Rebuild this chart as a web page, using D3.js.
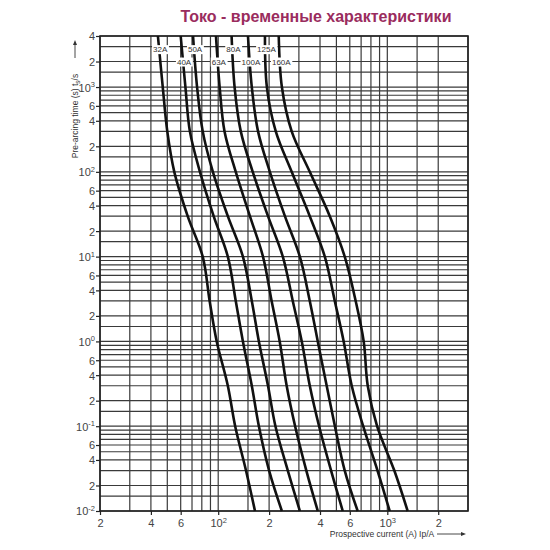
<!DOCTYPE html>
<html><head><meta charset="utf-8">
<script src="https://cdn.jsdelivr.net/npm/d3@7"></script>
<style>html,body{margin:0;padding:0;background:#fff;}svg{display:block;}</style>
</head><body>
<svg id="c" width="550" height="550"></svg>
<script>
// ---- data ----
const titleText = "Токо - временные характеристики";
const timeLevels = [4000, 1000, 300, 100, 30, 10, 3, 1, 0.3, 0.1, 0.03, 0.01];
const ratings = ["32A", "40A", "50A", "63A", "80A", "100A", "125A", "160A"];
const currents32A  = [44, 47, 50, 55, 66, 81, 89, 98, 114, 126, 146, 165];
const currents40A  = [60, 64, 68, 78, 94, 114, 127, 140, 158, 174, 200, 238];
const currents50A  = [71, 75, 81, 93, 114, 140, 158, 174, 197, 218, 258, 304];
const currents63A  = [97, 102, 109, 127, 154, 184, 207, 231, 254, 285, 332, 388];
const currents80A  = [120, 125, 136, 160, 197, 241, 276, 312, 348, 395, 465, 545];
const currents100A = [150, 158, 172, 202, 248, 304, 348, 388, 438, 490, 560, 668];
const currents125A = [189, 194, 219, 272, 348, 427, 489, 552, 616, 720, 875, 1033];
const currents160A = [228, 238, 272, 348, 457, 560, 650, 725, 766, 870, 1100, 1319];
const labelTimes = [2800, 2000, 2800, 2000, 2800, 2000, 2800, 2000];
const xTickValues = [20, 40, 60, 100, 200, 400, 600, 1000, 2000];
const yTickValues = [4000, 2000, 1000, 600, 400, 200, 100, 60, 40, 20, 10, 6, 4, 2, 1, 0.6, 0.4, 0.2, 0.1, 0.06, 0.04, 0.02, 0.01];
const gridMantissas = [1, 1.5, 2, 3, 4, 5, 6, 7, 8, 9];
const xAxisTitle = "Prospective current (A) Ip/A";
const yAxisTitle = "Pre-arcing time (s) t";

const allCurrents = [currents32A, currents40A, currents50A, currents63A, currents80A, currents100A, currents125A, currents160A];

// ---- layout ----
const svg = d3.select("#c");
const L = 100, R = 468, T = 36, B = 511;
const x = d3.scaleLog().domain([20, 3000]).range([L, R]);
const y = d3.scaleLog().domain([4000, 0.01]).range([T, B]);
const fam = "Liberation Sans, Arial, sans-serif";

svg.append("text").attr("x", 316).attr("y", 21.5).attr("text-anchor", "middle")
  .attr("font-family", fam).attr("font-weight", "bold")
  .attr("font-size", 16).attr("fill", "#9a2c5e").text(titleText);

// grid values
function gridVals(lo, hi) {
  const out = [];
  for (let e = -3; e <= 4; e++) for (const m of gridMantissas) {
    const v = +(m * Math.pow(10, e)).toPrecision(6);
    if (v >= lo * 0.999 && v <= hi * 1.001) out.push(v);
  }
  return out;
}
const gx = gridVals(20, 3000), gy = gridVals(0.01, 4000);
const grid = svg.append("g").attr("stroke", "#3a3a3a").attr("stroke-width", 1.2).attr("fill", "none");
grid.selectAll(".gx").data(gx).join("line")
  .attr("x1", d => x(d)).attr("x2", d => x(d)).attr("y1", T).attr("y2", B);
grid.selectAll(".gy").data(gy).join("line")
  .attr("x1", L).attr("x2", R).attr("y1", d => y(d)).attr("y2", d => y(d));
svg.append("rect").attr("x", L).attr("y", T).attr("width", R - L).attr("height", B - T)
  .attr("fill", "none").attr("stroke", "#222").attr("stroke-width", 1.6);

// axes (ticks + labels)
function fmtTick(sel, d) {
  const e = Math.round(Math.log10(d));
  if (Math.abs(Math.pow(10, e) - d) < 1e-9 * Math.max(1, d) && d !== 20 && d !== 2000 && d !== 4000) {
    sel.text("10");
    sel.append("tspan").attr("dy", -4.5).attr("font-size", 7.5).text(String(e));
  } else {
    const m = d / Math.pow(10, Math.floor(Math.log10(d) + 1e-9));
    sel.text(String(Math.round(m)));
  }
}
const xAxis = d3.axisBottom(x).tickValues(xTickValues).tickSize(4).tickFormat(() => "");
const gxa = svg.append("g").attr("transform", `translate(0,${B})`).call(xAxis);
gxa.select(".domain").remove();
gxa.selectAll(".tick line").attr("stroke", "#222").attr("stroke-width", 1.2);
gxa.selectAll(".tick").each(function(d) {
  const t = d3.select(this).append("text").attr("y", 16).attr("text-anchor", "middle")
    .attr("fill", "#444").attr("font-family", fam).attr("font-size", 11);
  fmtTick(t, d);
});
const yAxis = d3.axisLeft(y).tickValues(yTickValues).tickSize(4).tickFormat(() => "");
const gya = svg.append("g").attr("transform", `translate(${L},0)`).call(yAxis);
gya.select(".domain").remove();
gya.selectAll(".tick line").attr("stroke", "#222").attr("stroke-width", 1.2);
gya.selectAll(".tick").each(function(d) {
  const t = d3.select(this).append("text").attr("x", -5).attr("dy", "0.36em").attr("text-anchor", "end")
    .attr("fill", "#444").attr("font-family", fam).attr("font-size", 11);
  fmtTick(t, d);
});

// curves
const line = d3.line().x(d => x(d[0])).y(d => y(d[1])).curve(d3.curveCatmullRom.alpha(0.5));
allCurrents.forEach((cs, i) => {
  const pts = cs.map((c, j) => [c, timeLevels[j]]);
  svg.append("path").attr("d", line(pts)).attr("fill", "none")
    .attr("stroke", "#111").attr("stroke-width", 2.6).attr("stroke-linejoin", "round");
});

// curve labels
ratings.forEach((r, i) => {
  const cs = allCurrents[i];
  const t = labelTimes[i];
  const lx = x(cs[0]) + (x(cs[1]) - x(cs[0])) * (Math.log(4000 / t) / Math.log(4));
  const ly = y(t);
  const g = svg.append("g");
  const txt = g.append("text").attr("x", lx + 1).attr("y", ly + 3).attr("text-anchor", "middle")
    .attr("font-family", fam).attr("font-size", 8).attr("fill", "#333").text(r);
  const bb = txt.node().getBBox();
  g.insert("rect", "text").attr("x", bb.x - 1).attr("y", bb.y).attr("width", bb.width + 2).attr("height", bb.height)
    .attr("fill", "#fff");
});

// axis titles
const yt = svg.append("text").attr("transform", "translate(78,116) rotate(-90)").attr("text-anchor", "middle")
  .attr("font-family", fam).attr("font-size", 8.5).attr("fill", "#333").text(yAxisTitle);
yt.append("tspan").attr("font-size", 6.5).attr("dy", 2).text("s");
yt.append("tspan").attr("dy", -2).text("/s");
svg.append("line").attr("x1", 75).attr("x2", 75).attr("y1", 58).attr("y2", 44).attr("stroke", "#333").attr("stroke-width", 0.9);
svg.append("path").attr("d", "M75,40 L73,45 L77,45 Z").attr("fill", "#333");

svg.append("text").attr("x", 382).attr("y", 537).attr("text-anchor", "middle")
  .attr("font-family", fam).attr("font-size", 8.5).attr("fill", "#333").text(xAxisTitle);
svg.append("line").attr("x1", 437).attr("x2", 462).attr("y1", 534).attr("y2", 534).attr("stroke", "#333").attr("stroke-width", 0.9);
svg.append("path").attr("d", "M466,534 L461,532 L461,536 Z").attr("fill", "#333");
</script>
</body></html>
